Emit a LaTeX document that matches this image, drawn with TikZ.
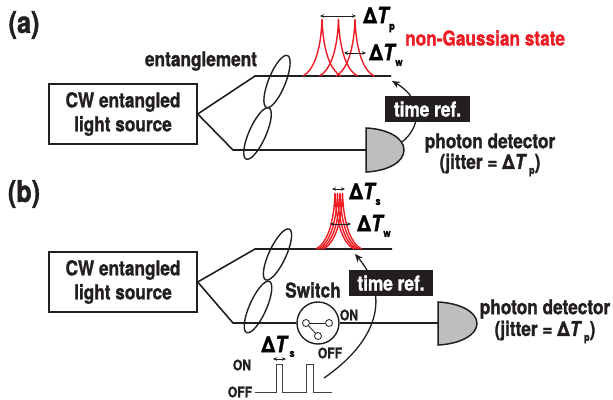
\documentclass[tikz,border=0pt]{standalone}
\usepackage{fontspec}
\setmainfont[FakeStretch=0.84,BoldFeatures={FakeBold=1.3},BoldItalicFeatures={FakeBold=1.3}]{TeX Gyre Heros}
\usetikzlibrary{arrows.meta,shapes.geometric}
\definecolor{ink}{HTML}{231F20}
\definecolor{redl}{HTML}{ED1C24}
\definecolor{detg}{HTML}{BCBEC0}
\newcommand{\dTsym}{{\fontsize{22.5}{25}\selectfont\bfseries Δ\textit{T}}}
\newcommand{\dTin}{{\bfseries Δ\textit{T}}}
\newcommand{\subsym}[1]{{\fontsize{11}{12}\selectfont\bfseries #1}}
\tikzset{
 lbl/.style={inner sep=0,text=ink,font=\fontsize{20.5}{24}\selectfont\bfseries,align=center},
 panel/.style={inner sep=0,text=ink,font=\fontsize{30}{32}\selectfont\bfseries},
 small/.style={inner sep=0,text=ink,font=\fontsize{14.5}{16}\selectfont\bfseries},
 src/.style={draw=ink,line width=1.4pt,minimum width=148,minimum height=60,inner sep=0,align=center,text=ink,font=\fontsize{20.5}{23}\selectfont\bfseries},
 beam/.style={draw=ink,line width=1.6pt},
 ell/.style={draw=ink,line width=1.4pt,ellipse,inner sep=0,minimum width=56,minimum height=17},
 det/.style={draw=ink,line width=1.5pt,fill=detg},
 peak/.style={draw=redl,line width=1.4pt},
 dim/.style={draw=ink,line width=0.6pt,{Stealth[length=4pt,width=3.5pt]}-{Stealth[length=4pt,width=3.5pt]}},
 refarr/.style={draw=ink,line width=1.3pt,-{Stealth[length=8pt,width=7pt]}},
 refbox/.style={fill=ink,text=white,inner sep=0,font=\fontsize{20.5}{24}\selectfont\bfseries},
 sw/.style={draw=ink,line width=1.4pt,fill=white,circle,minimum size=42,inner sep=0},
 pole/.style={draw=ink,line width=0.8pt,fill=white,circle,minimum size=7,inner sep=0},
 pulse/.style={draw=ink!85,line width=0.9pt}
}
\begin{document}
\begin{tikzpicture}[x=1pt,y=-1pt]
\useasboundingbox (0,0) rectangle (613,399);
% ---------- (a)
\node[panel] (la) at (24,25) {(a)};
\node[src] (srca) at (123,114) {CW entangled\\[1pt]light source};
\node[lbl] (enta) at (201,61) {entanglement};
\coordinate (a1) at (255,76); \coordinate (a2) at (391,76);
\coordinate (a3) at (233,150);
\node[inner sep=0,minimum size=0] (deta) at (366,150) {};
\draw[beam] (srca.east) -- (a1) -- (a2);
\draw[beam] (srca.east) -- (a3) -- (deta.center);
\node[ell,rotate=68] (ea1) at (277,81.5) {};
\node[ell,rotate=66] (ea2) at (257.5,133.5) {};
\draw[det] (366,128) .. controls (388,129) and (404,138) .. (404,150) .. controls (404,162) and (388,171) .. (366,172) -- cycle;
\foreach \p in {322,338.5,355}{
 \draw[peak] (\p-19,76) .. controls (\p-8,70) and (\p-1,50) .. (\p,19) .. controls (\p+1,50) and (\p+8,70) .. (\p+19,76);
}
\coordinate (pa1) at (320,16); \coordinate (pa2) at (356,16);
\coordinate (wa1) at (344,53); \coordinate (wa2) at (366,53);
\draw[dim] (pa1) -- (pa2);
\draw[dim] (wa1) -- (wa2);
\node[inner sep=0,anchor=west] (dtpa) at (363,15) {\dTsym};
\node[inner sep=0] (spa) at (392,28) {\subsym{p}};
\node[inner sep=0,anchor=west] (dtwa) at (369,52) {\dTsym};
\node[inner sep=0] (swa) at (399,63) {\subsym{w}};
\node[inner sep=0,text=redl,font=\fontsize{20.5}{24}\selectfont\bfseries,anchor=west] (nga) at (405,38) {non-Gaussian state};
\coordinate (ra1) at (402,142); \coordinate (ra2) at (392,81);
\draw[refarr] (ra1) .. controls (420,128) and (425,100) .. (ra2);
\node[refbox,minimum width=85,minimum height=26] (ta) at (427.5,109) {time ref.};
\node[lbl] (pda) at (490,143) {photon detector};
\node[lbl] (jia) at (490,165) {(jitter = \dTin\hspace{2pt}\raisebox{-5pt}{\subsym{p}})};
% ---------- (b)
\node[panel] (lb) at (24,194) {(b)};
\node[src] (srcb) at (123,282) {CW entangled\\[1pt]light source};
\coordinate (b1) at (255,249); \coordinate (b2) at (392,249);
\coordinate (b3) at (233,323);
\node[inner sep=0,minimum size=0] (detb) at (438,323) {};
\draw[beam] (srcb.east) -- (b1) -- (b2);
\node[sw] (swi) at (318,323) {};
\draw[beam] (srcb.east) -- (b3) -- (swi.west);
\draw[beam] (swi.east) -- (detb.center);
\node[ell,rotate=65] (eb1) at (277.5,254.5) {};
\node[ell,rotate=66] (eb2) at (258,307) {};
\draw[det] (438,302) .. controls (460,303) and (477,312) .. (477,323.5) .. controls (477,335) and (460,344) .. (438,345) -- cycle;
\foreach \p in {335,337.5,340,342.5}{
 \draw[peak] (\p-19,249) .. controls (\p-8,243) and (\p-1,224) .. (\p,193) .. controls (\p+1,224) and (\p+8,243) .. (\p+19,249);
}
\coordinate (pb1) at (332,189); \coordinate (pb2) at (345,189);
\coordinate (wb1) at (330,224); \coordinate (wb2) at (351,224);
\draw[dim] (pb1) -- (pb2);
\draw[dim] (wb1) -- (wb2);
\node[inner sep=0,anchor=west] (dtsb) at (349,191) {\dTsym};
\node[inner sep=0] (ssb) at (378,202) {\subsym{s}};
\node[inner sep=0,anchor=west] (dtwb) at (357,223) {\dTsym};
\node[inner sep=0] (swb) at (387,234) {\subsym{w}};
\coordinate (rb1) at (324,378); \coordinate (rb2) at (355,254);
\draw[refarr] (rb1) .. controls (372,345) and (394,300) .. (rb2);
\node[refbox,minimum width=84,minimum height=26] (tb) at (391,283) {time ref.};
\node[lbl] (swl) at (313,290) {Switch};
\node[pole] (p1) at (306,323) {};
\node[pole] (p2) at (329,323) {};
\node[pole] (p3) at (318,336) {};
\draw[ink,line width=0.8pt] (p1) -- (p2);
\draw[ink,line width=0.8pt] (p1) -- (p3);
\node[small] (on1) at (349,315) {ON};
\node[small] (off1) at (330,353) {OFF};
\node[lbl] (pdb) at (545,309) {photon detector};
\node[lbl] (jib) at (545,332) {(jitter = \dTin\hspace{2pt}\raisebox{-5pt}{\subsym{p}})};
\node[inner sep=0] (dts2) at (275,344) {\dTsym};
\node[inner sep=0] (ss2) at (292,354) {\subsym{s}};
\coordinate (q1) at (273,359); \coordinate (q2) at (286,359);
\draw[dim] (q1) -- (q2);
\node[small] (on2) at (242,365) {ON};
\node[small] (off2) at (240,392) {OFF};
\draw[pulse] (255,392) -- (276,392) -- (276,364) -- (282,364) -- (282,392) -- (306,392) -- (306,364) -- (313,364) -- (313,392) -- (332,392);
\end{tikzpicture}
\end{document}
